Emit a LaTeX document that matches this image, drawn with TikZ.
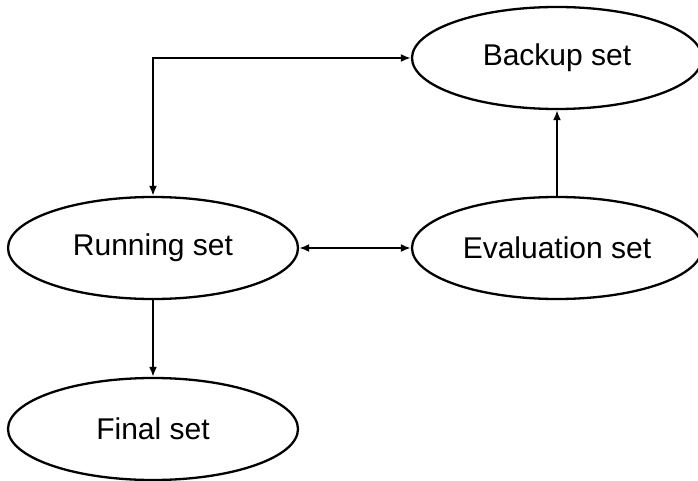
\documentclass[tikz,border=0pt]{standalone}
\usepackage{fontspec}
\setmainfont{Liberation Sans}
\usetikzlibrary{shapes.geometric,arrows.meta}
\begin{document}
\begin{tikzpicture}[x=1pt,y=-1pt,
  setnode/.style={draw,ellipse,line width=2.3pt,minimum width=290pt,minimum height=102pt,inner sep=0pt,font=\fontsize{30}{35}\selectfont},
  conn/.style={line width=2.3pt,-{Latex[length=10pt,width=8pt]}}]
\useasboundingbox (0,0) rectangle (698,481);
\node[setnode] (backup) at (557,58) {Backup set};
\node[setnode] (eval) at (557,248) {Evaluation set};
\node[setnode] (run) at (153,248) {Running set};
\node[setnode] (final) at (153,429) {Final set};
\coordinate (corner) at (run.north |- backup.west);
\draw[conn,{Latex[length=10pt,width=8pt]}-{Latex[length=10pt,width=8pt]}] (run.north) -- (corner) -- (backup.west);
\draw[conn,{Latex[length=10pt,width=8pt]}-{Latex[length=10pt,width=8pt]}] (run.east) -- (eval.west);
\draw[conn] (eval.north) -- (backup.south);
\draw[conn] (run.south) -- (final.north);
\end{tikzpicture}
\end{document}
